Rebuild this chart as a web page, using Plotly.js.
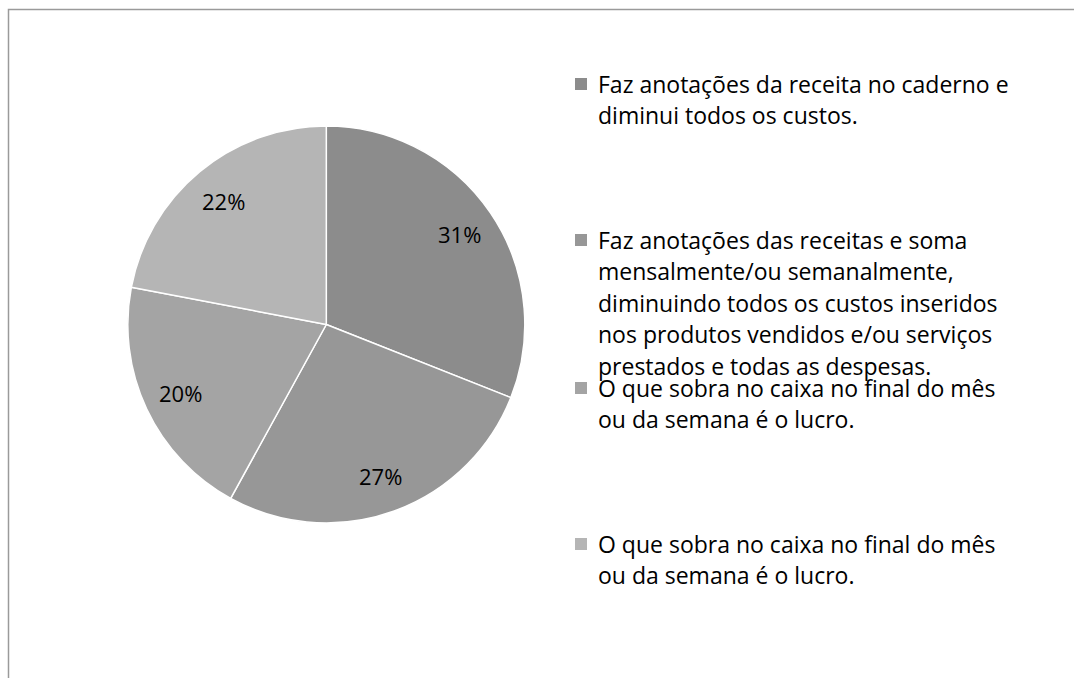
<!DOCTYPE html>
<html><head><meta charset="utf-8">
<script src="https://cdn.plot.ly/plotly-3.0.1.min.js"></script>
<style>html,body{margin:0;padding:0;background:#fff}#chart{width:1074px;height:678px}</style>
</head><body><div id="chart"></div>
<script>
// ---- data ----
const categories = [
  "Faz anotações da receita no caderno e<br>diminui todos os custos.",
  "Faz anotações das receitas e soma<br>mensalmente/ou semanalmente,<br>diminuindo todos os custos inseridos<br>nos produtos vendidos e/ou serviços<br>prestados e todas as despesas.",
  "O que sobra no caixa no final do mês<br>ou da semana é o lucro.",
  "O que sobra no caixa no final do mês<br>ou da semana é o lucro."
];
const values = [31, 27, 20, 22];
const percentLabels = ["31%", "27%", "20%", "22%"];
const sliceColors = ["#8c8c8c", "#979797", "#a4a4a4", "#b5b5b5"];

// ---- layout constants (pixels) ----
const W = 1074, H = 678;
const CX = 326.3, CY = 324.5, R = 198.5;
const labelRadius = 0.81;
const legendFirstLineY = [84, 240, 388, 544];
const legendLineGap = 31.4;
const legendTextX = 596, legendSquareX = 575, legendSquareSize = 12;
const FONT = "'Open Sans', Lato, sans-serif";

const px = x => x / W;
const py = y => 1 - y / H;

const trace = {
  type: "pie",
  labels: categories.map((c, i) => "s" + i),
  values: values,
  sort: false,
  direction: "clockwise",
  rotation: 0,
  textinfo: "none",
  hoverinfo: "none",
  marker: { colors: sliceColors, line: { color: "#ffffff", width: 1.5 } },
  domain: { x: [px(CX - R), px(CX + R)], y: [py(CY + R), py(CY - R)] },
  showlegend: false
};

const annotations = [];
const shapes = [];

// percentage labels placed along each slice's mid angle
const total = values.reduce((a, b) => a + b, 0);
let cum = 0;
values.forEach((v, i) => {
  const mid = (cum + v / 2) / total * 2 * Math.PI;
  cum += v;
  const lx = CX + labelRadius * R * Math.sin(mid);
  const ly = CY - labelRadius * R * Math.cos(mid);
  annotations.push({
    xref: "paper", yref: "paper", x: px(lx), y: py(ly),
    xanchor: "center", yanchor: "middle", showarrow: false,
    text: percentLabels[i], font: { family: FONT, size: 22, color: "#000" }
  });
});

// legend drawn as text lines + colour squares
categories.forEach((c, i) => {
  const lines = c.split("<br>");
  lines.forEach((t, j) => {
    annotations.push({
      xref: "paper", yref: "paper", x: px(legendTextX), y: py(legendFirstLineY[i] + j * legendLineGap),
      xanchor: "left", yanchor: "middle", showarrow: false, align: "left",
      text: t, font: { family: FONT, size: 23, color: "#000" }
    });
  });
  const cy = legendFirstLineY[i];
  shapes.push({
    type: "rect", xref: "paper", yref: "paper",
    x0: px(legendSquareX), x1: px(legendSquareX + legendSquareSize),
    y0: py(cy + legendSquareSize / 2), y1: py(cy - legendSquareSize / 2),
    fillcolor: sliceColors[i], line: { width: 0 }
  });
});

// chart area border
shapes.push({
  type: "rect", xref: "paper", yref: "paper",
  x0: px(8.5), x1: 1.05, y0: -0.05, y1: py(9.5),
  line: { color: "#9a9a9a", width: 1.5 }, fillcolor: "rgba(0,0,0,0)"
});

const layout = {
  width: W, height: H,
  margin: { l: 0, r: 0, t: 0, b: 0 },
  paper_bgcolor: "#ffffff",
  showlegend: false,
  annotations: annotations,
  shapes: shapes
};

Plotly.newPlot("chart", [trace], layout, { displayModeBar: false, staticPlot: true });
</script>
</body></html>
